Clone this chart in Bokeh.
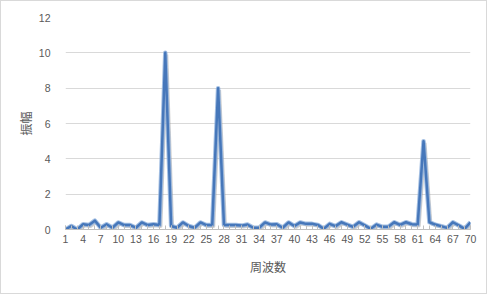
from bokeh.plotting import figure
from bokeh.models import ColumnDataSource, Range1d, FixedTicker
from bokeh.transform import dodge
from bokeh.embed import file_html
from bokeh.resources import INLINE

# Frequency bins 1..70 and their amplitudes
freq = list(range(1, 71))
amplitude = [
    0.0, 0.2, 0.0, 0.3, 0.25, 0.5, 0.1, 0.3, 0.1, 0.4,
    0.25, 0.25, 0.1, 0.4, 0.25, 0.3, 0.25, 10.0, 0.2, 0.1,
    0.4, 0.2, 0.1, 0.4, 0.25, 0.25, 8.0, 0.25, 0.25, 0.25,
    0.22, 0.28, 0.1, 0.1, 0.4, 0.28, 0.3, 0.1, 0.4, 0.2,
    0.4, 0.32, 0.32, 0.26, 0.04, 0.32, 0.19, 0.41, 0.28, 0.15,
    0.41, 0.23, 0.04, 0.28, 0.15, 0.15, 0.41, 0.26, 0.41, 0.3,
    0.28, 5.0, 0.41, 0.28, 0.19, 0.09, 0.41, 0.23, 0.04, 0.41,
]
x_tick_labels = list(range(1, 71, 3))
y_ticks = [0, 2, 4, 6, 8, 10, 12]

src = ColumnDataSource(data=dict(f=freq, a=amplitude))

p = figure(
    width=487, height=294,
    output_backend="svg", toolbar_location=None,
    x_range=Range1d(1, 70), y_range=Range1d(0, 12),
    min_border_left=64, min_border_right=18,
    min_border_top=16, min_border_bottom=66,
)
p.styles = {"border": "1px solid #d9d9d9"}
p.outline_line_color = None
p.background_fill_color = "white"
p.border_fill_color = "white"

# horizontal grid only
p.xgrid.grid_line_color = None
p.ygrid.grid_line_color = "#d9d9d9"
p.ygrid.grid_line_width = 1

label_font = "Liberation Sans"
jp_font = "Noto Sans CJK JP"

p.xaxis.ticker = FixedTicker(ticks=x_tick_labels, minor_ticks=freq)
p.xaxis.axis_line_color = "#bfbfbf"
p.xaxis.major_tick_line_color = "#bfbfbf"
p.xaxis.minor_tick_line_color = "#bfbfbf"
p.xaxis.major_tick_in = 4
p.xaxis.major_tick_out = 0
p.xaxis.minor_tick_in = 4
p.xaxis.minor_tick_out = 0
p.xaxis.major_label_text_font = label_font
p.xaxis.major_label_text_font_size = "10.5px"
p.xaxis.major_label_text_color = "#595959"
p.xaxis.major_label_standoff = 5
p.xaxis.axis_label = "周波数"
p.xaxis.axis_label_text_font = jp_font
p.xaxis.axis_label_text_font_style = "normal"
p.xaxis.axis_label_text_font_size = "12px"
p.xaxis.axis_label_text_color = "#595959"
p.xaxis.axis_label_standoff = 12

p.yaxis.ticker = FixedTicker(ticks=y_ticks)
p.yaxis.axis_line_color = None
p.yaxis.major_tick_line_color = None
p.yaxis.minor_tick_line_color = None
p.yaxis.major_label_text_font = label_font
p.yaxis.major_label_text_font_size = "10.5px"
p.yaxis.major_label_text_color = "#595959"
p.yaxis.major_label_standoff = 9
p.yaxis.axis_label = "振幅"
p.yaxis.axis_label_text_font = jp_font
p.yaxis.axis_label_text_font_style = "normal"
p.yaxis.axis_label_text_font_size = "12px"
p.yaxis.axis_label_text_color = "#595959"
p.yaxis.axis_label_standoff = 2

# soft shadow, halo and the main amplitude line
p.line(x=dodge("f", 0.3), y=dodge("a", -0.1), source=src,
       line_color="#9a9a9a", line_alpha=0.45, line_width=2.5)
p.line(x="f", y="a", source=src, line_color="#8fb0dc", line_width=4.5,
       line_alpha=0.8, line_join="round")
p.line(x="f", y="a", source=src, line_color="#4677ba", line_width=2.5,
       line_join="round")

open("out.html", "w").write(file_html(p, INLINE))
